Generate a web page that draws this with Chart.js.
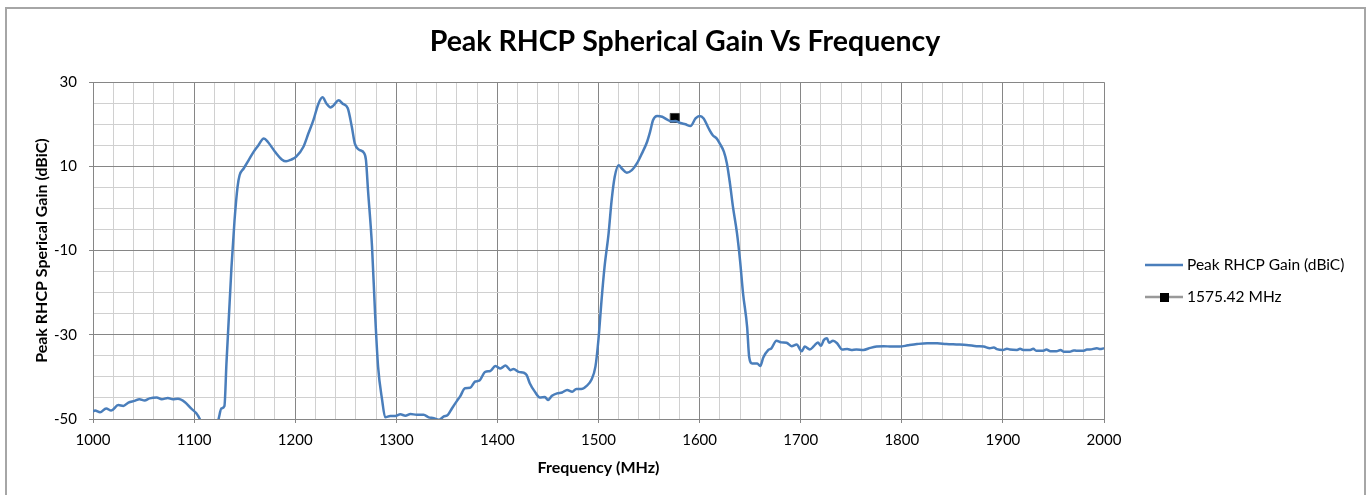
<!DOCTYPE html>
<html>
<head>
<meta charset="utf-8">
<title>Peak RHCP Spherical Gain Vs Frequency</title>
<script src="https://cdn.jsdelivr.net/npm/chart.js@4.4.0/dist/chart.umd.min.js"></script>
<style>
  html, body { margin: 0; padding: 0; background: #fff; }
  #wrap { position: absolute; left: 0; top: 0; width: 1370px; height: 495px; }
</style>
</head>
<body>
<div id="wrap"><canvas id="myChart" width="1370" height="495"></canvas></div>
<script>
// frequency (MHz) and peak RHCP gain (dBiC)
const freq = [
  1000, 1002, 1007, 1013, 1018, 1025, 1030, 1035, 1041, 1046, 1051, 1056, 1063, 1068, 1074, 1079, 1084, 1091, 1097, 1102,
  1106, 1110, 1115, 1120, 1124, 1127, 1130, 1132, 1137, 1140, 1143, 1145, 1149, 1154, 1159, 1163, 1169, 1173, 1180, 1187,
  1191, 1196, 1201, 1208, 1213, 1218, 1223, 1227, 1231, 1235, 1238, 1243, 1247, 1252, 1256, 1259, 1263, 1268, 1270, 1272,
  1276, 1279, 1282, 1286, 1289, 1294, 1299, 1304, 1309, 1314, 1320, 1327, 1332, 1337, 1342, 1347, 1351, 1355, 1360, 1363,
  1368, 1373, 1378, 1382, 1388, 1393, 1398, 1403, 1408, 1413, 1416, 1421, 1426, 1429, 1432, 1437, 1442, 1447, 1450, 1454,
  1459, 1464, 1469, 1474, 1478, 1483, 1488, 1493, 1497, 1500, 1503, 1506, 1510, 1513, 1516, 1520, 1523, 1528, 1533, 1538,
  1543, 1548, 1551, 1554, 1558, 1563, 1568, 1572, 1576, 1581, 1586, 1591, 1596, 1600, 1604, 1609, 1613, 1617, 1620, 1624,
  1627, 1630, 1633, 1637, 1640, 1643, 1647, 1649, 1652, 1657, 1660, 1663, 1668, 1671, 1676, 1681, 1686, 1691, 1696, 1701,
  1704, 1709, 1713, 1717, 1720, 1723, 1726, 1728, 1732, 1736, 1741, 1746, 1750, 1755, 1762, 1769, 1775, 1782, 1790, 1798,
  1806, 1815, 1825, 1835, 1844, 1854, 1864, 1874, 1881, 1887, 1891, 1894, 1900, 1904, 1907, 1914, 1917, 1920, 1927, 1930,
  1933, 1940, 1943, 1947, 1953, 1957, 1960, 1966, 1970, 1973, 1980, 1983, 1986, 1993, 1996, 2000
];
const gain = [
  -48.2, -48.0, -48.4, -47.5, -48.0, -46.7, -46.9, -46.1, -45.7, -45.3, -45.6, -45.1, -44.9, -45.3, -45.0, -45.3, -45.2, -46.0, -47.5, -48.6,
  -50.2, -53.0, -55.0, -53.0, -50.2, -47.5, -46.9, -36.8, -13.8, -2.8, 5.2, 7.9, 9.5, 11.5, 13.5, 14.8, 16.6, 15.8, 13.5, 11.6,
  11.2, 11.6, 12.3, 14.6, 17.8, 21.0, 24.9, 26.4, 24.9, 24.0, 24.5, 25.7, 24.9, 23.8, 19.4, 15.4, 14.0, 13.2, 11.5, 4.4,
  -9.1, -24.9, -37.6, -45.5, -49.6, -49.3, -49.3, -48.9, -49.2, -48.8, -49.0, -49.0, -49.6, -49.8, -50.2, -49.4, -49.0, -47.5, -45.7, -44.7,
  -42.7, -42.6, -41.1, -40.9, -38.8, -38.6, -37.4, -38.0, -37.3, -38.4, -38.1, -38.8, -39.0, -39.6, -41.5, -43.5, -44.9, -44.8, -45.5, -44.5,
  -43.9, -43.7, -43.1, -43.5, -42.9, -42.9, -42.2, -40.7, -37.5, -31.0, -21.8, -13.8, -5.9, 2.0, 7.5, 10.3, 9.5, 8.5, 9.1, 10.7,
  13.1, 15.8, 18.2, 21.0, 22.0, 21.8, 21.1, 20.7, 20.8, 20.3, 20.0, 19.6, 21.4, 22.0, 21.4, 19.0, 17.4, 16.6, 15.4, 13.5,
  10.7, 6.0, 0.4, -5.9, -12.3, -20.2, -28.1, -35.2, -36.8, -36.8, -37.4, -35.4, -33.6, -33.2, -31.4, -31.8, -31.9, -32.7, -32.3, -33.9,
  -32.8, -33.5, -32.7, -31.8, -32.6, -31.2, -30.8, -31.9, -31.4, -32.0, -33.5, -33.4, -33.6, -33.5, -33.6, -33.1, -32.8, -32.7, -32.8, -32.8,
  -32.5, -32.2, -32.0, -32.0, -32.2, -32.3, -32.4, -32.7, -32.8, -33.2, -33.0, -33.4, -33.6, -33.3, -33.5, -33.6, -33.3, -33.6, -33.6, -33.3,
  -33.8, -33.8, -33.5, -33.9, -33.9, -33.6, -34.0, -34.0, -33.7, -33.8, -33.8, -33.5, -33.5, -33.2, -33.4, -33.2
];

// the 1575.42 MHz marker
const markerFreq = [1575.42];
const markerGain = [21.5];

// labelled ticks (these also get the darker grid lines)
const xLabels = [1000, 1100, 1200, 1300, 1400, 1500, 1600, 1700, 1800, 1900, 2000];
const yLabels = [-50, -30, -10, 10, 30];

const seriesNames = ['Peak RHCP Gain (dBiC)', '1575.42 MHz'];

Chart.defaults.font.family = 'Lato';
Chart.defaults.color = '#000';

const majorGrid = '#868686';
const minorGrid = '#d0d0d0';

// white background + outer frame
const frame = {
  id: 'frame',
  beforeDraw(chart) {
    const ctx = chart.ctx;
    ctx.save();
    ctx.fillStyle = '#fff';
    ctx.fillRect(0, 0, chart.width, chart.height);
    ctx.strokeStyle = '#a6a6a6';
    ctx.lineWidth = 2;
    ctx.strokeRect(6, 8, 1359, 500);
    ctx.restore();
  }
};

// legend on the right, excel style
const sideLegend = {
  id: 'sideLegend',
  afterDraw(chart) {
    const ctx = chart.ctx;
    const ds = chart.data.datasets;
    const x0 = 1145, x1 = 1183, tx = 1187;
    const rows = [265, 297];
    ctx.save();
    ctx.font = '15.5px Lato';
    ctx.textBaseline = 'middle';
    ctx.textAlign = 'left';

    ctx.strokeStyle = ds[0].borderColor;
    ctx.lineWidth = 2.5;
    ctx.beginPath();
    ctx.moveTo(x0, rows[0]);
    ctx.lineTo(x1, rows[0]);
    ctx.stroke();
    ctx.fillStyle = '#000';
    ctx.fillText(ds[0].label, tx, rows[0]);

    ctx.strokeStyle = '#999999';
    ctx.beginPath();
    ctx.moveTo(x0, rows[1]);
    ctx.lineTo(x1, rows[1]);
    ctx.stroke();
    ctx.fillStyle = ds[1].pointBackgroundColor;
    ctx.fillRect(1160, rows[1] - 4, 9, 9);
    ctx.fillStyle = '#000';
    ctx.fillText(ds[1].label, tx, rows[1]);
    ctx.restore();
  }
};

const ctx = document.getElementById('myChart');

const myChart = new Chart(ctx, {
  type: 'line',
  data: {
    datasets: [{
      label: seriesNames[0],
      data: freq.map((f, i) => ({x: f, y: gain[i]})),
      borderColor: '#4a7ebb',
      backgroundColor: '#4a7ebb',
      borderWidth: 2.5,
      pointRadius: 0,
      cubicInterpolationMode: 'monotone',
      fill: false
    }, {
      label: seriesNames[1],
      data: markerFreq.map((f, i) => ({x: f, y: markerGain[i]})),
      showLine: false,
      pointStyle: 'rect',
      pointRadius: 6.4,
      pointBackgroundColor: '#000',
      pointBorderColor: '#404040',
      pointBorderWidth: 1
    }]
  },
  options: {
    responsive: false,
    animation: false,
    events: [],
    layout: { padding: { top: 10, left: 0, right: 0, bottom: 15 } },
    plugins: {
      legend: { display: false },
      tooltip: { enabled: false },
      title: {
        display: true,
        text: 'Peak RHCP Spherical Gain Vs Frequency',
        font: { size: 28.5, weight: 'bold' },
        color: '#000',
        padding: { top: 15, bottom: 23 }
      }
    },
    scales: {
      x: {
        type: 'linear',
        min: 1000,
        max: 2000,
        afterFit: (s) => { s.height = 61; },
        ticks: {
          stepSize: 20,
          autoSkip: false,
          maxRotation: 0,
          padding: 8,
          font: { size: 15 },
          callback: (v) => xLabels.includes(v) ? v : ''
        },
        grid: {
          color: (c) => (c.tick && xLabels.includes(c.tick.value)) ? majorGrid : minorGrid,
          tickColor: (c) => (c.tick && xLabels.includes(c.tick.value)) ? majorGrid : 'rgba(0,0,0,0)',
          tickLength: 4
        },
        border: { color: majorGrid },
        title: {
          display: true,
          text: 'Frequency (MHz)',
          font: { size: 16, weight: 'bold' },
          padding: { top: 0, bottom: 3 }
        }
      },
      y: {
        min: -50,
        max: 30,
        afterFit: (s) => { s.width = 93; },
        ticks: {
          stepSize: 5,
          autoSkip: false,
          padding: 12,
          font: { size: 15 },
          callback: (v) => yLabels.includes(v) ? v : ''
        },
        grid: {
          color: (c) => (c.tick && yLabels.includes(c.tick.value)) ? majorGrid : minorGrid,
          tickColor: (c) => (c.tick && yLabels.includes(c.tick.value)) ? majorGrid : 'rgba(0,0,0,0)',
          tickLength: 4
        },
        border: { color: majorGrid },
        title: {
          display: true,
          text: 'Peak RHCP Sperical Gain (dBiC)',
          font: { size: 16, weight: 'bold' },
          padding: { top: 32, bottom: 0 }
        }
      },
      // empty axis that keeps the right side free for the legend
      yRight: {
        position: 'right',
        display: true,
        afterFit: (s) => { s.width = 266; },
        ticks: { display: false },
        grid: { display: false, drawTicks: false },
        border: { display: false }
      }
    }
  },
  plugins: [frame, sideLegend]
});
</script>
</body>
</html>
